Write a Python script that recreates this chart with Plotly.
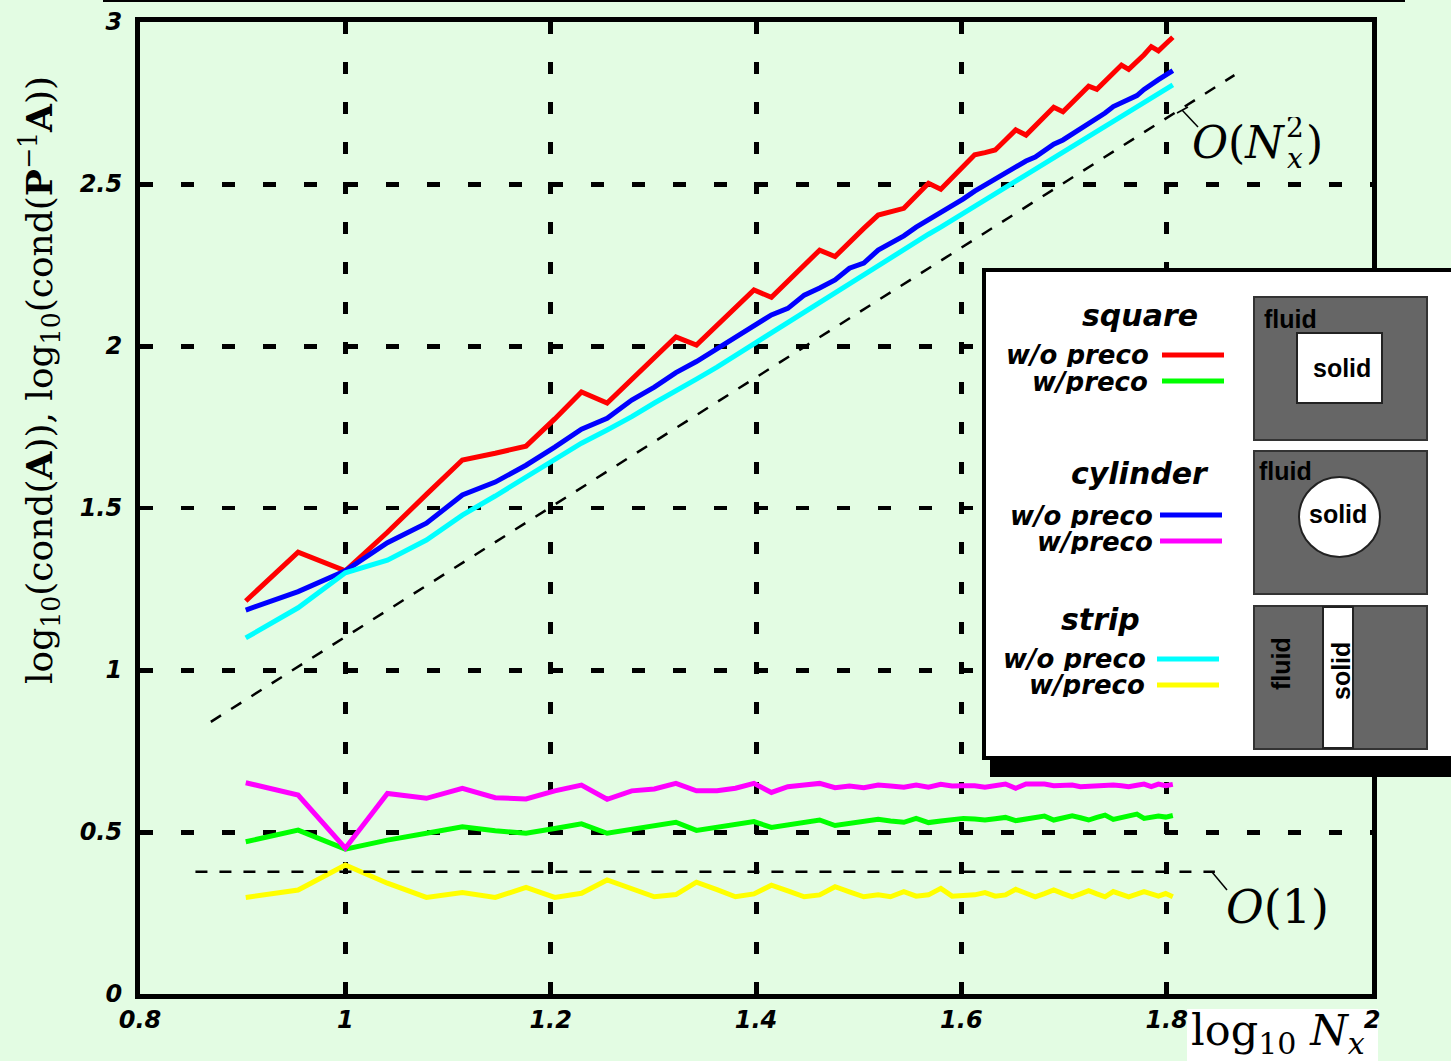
import plotly.graph_objects as go

# ---------------- data ----------------
# x = log10(Nx), Nx = 8 ... 64
log_nx = [0.903, 0.954, 1.000, 1.041, 1.079, 1.114, 1.146, 1.176, 1.204, 1.230,
          1.255, 1.279, 1.301, 1.322, 1.342, 1.362, 1.380, 1.398, 1.415, 1.431,
          1.447, 1.462, 1.477, 1.491, 1.505, 1.519, 1.531, 1.544, 1.556, 1.568,
          1.580, 1.591, 1.602, 1.613, 1.623, 1.633, 1.643, 1.653, 1.663, 1.672,
          1.681, 1.690, 1.699, 1.708, 1.716, 1.724, 1.732, 1.740, 1.748, 1.756,
          1.763, 1.771, 1.778, 1.785, 1.792, 1.799, 1.806]

square_wo = [1.213, 1.364, 1.306, 1.425, 1.542, 1.648, 1.669, 1.691, 1.775, 1.858,
             1.824, 1.896, 1.963, 2.028, 2.003, 2.063, 2.119, 2.173, 2.150, 2.201,
             2.250, 2.296, 2.276, 2.321, 2.363, 2.404, 2.415, 2.425, 2.464, 2.502,
             2.484, 2.518, 2.553, 2.590, 2.597, 2.605, 2.636, 2.667, 2.651, 2.680,
             2.710, 2.737, 2.723, 2.750, 2.776, 2.802, 2.792, 2.816, 2.842, 2.867,
             2.854, 2.876, 2.899, 2.924, 2.911, 2.932, 2.953]

square_w = [0.470, 0.506, 0.447, 0.475, 0.496, 0.516, 0.504, 0.496, 0.511, 0.525,
            0.496, 0.508, 0.519, 0.530, 0.505, 0.514, 0.523, 0.532, 0.514, 0.522,
            0.530, 0.537, 0.520, 0.526, 0.533, 0.539, 0.534, 0.530, 0.542, 0.529,
            0.534, 0.538, 0.542, 0.540, 0.537, 0.541, 0.545, 0.535, 0.540, 0.545,
            0.549, 0.537, 0.544, 0.550, 0.544, 0.537, 0.545, 0.552, 0.539, 0.545,
            0.550, 0.555, 0.542, 0.546, 0.549, 0.546, 0.551]

cylinder_wo = [1.185, 1.242, 1.306, 1.393, 1.453, 1.540, 1.580, 1.632, 1.688, 1.743,
               1.777, 1.833, 1.873, 1.918, 1.952, 1.991, 2.028, 2.065, 2.096, 2.116,
               2.157, 2.179, 2.204, 2.240, 2.256, 2.296, 2.318, 2.340, 2.367, 2.389,
               2.410, 2.432, 2.454, 2.478, 2.497, 2.517, 2.536, 2.554, 2.571, 2.583,
               2.605, 2.623, 2.636, 2.654, 2.673, 2.688, 2.703, 2.719, 2.739, 2.750,
               2.761, 2.773, 2.792, 2.809, 2.822, 2.836, 2.850]

cylinder_w = [0.652, 0.614, 0.450, 0.619, 0.604, 0.635, 0.606, 0.602, 0.627, 0.645,
              0.601, 0.627, 0.633, 0.650, 0.627, 0.627, 0.635, 0.650, 0.622, 0.640,
              0.645, 0.650, 0.637, 0.642, 0.637, 0.645, 0.642, 0.638, 0.645, 0.638,
              0.647, 0.642, 0.643, 0.643, 0.638, 0.643, 0.648, 0.635, 0.648, 0.648,
              0.648, 0.643, 0.644, 0.645, 0.640, 0.641, 0.643, 0.645, 0.645, 0.643,
              0.640, 0.644, 0.648, 0.640, 0.648, 0.643, 0.647]

strip_wo = [1.099, 1.192, 1.300, 1.339, 1.401, 1.478, 1.537, 1.595, 1.650, 1.700,
            1.741, 1.782, 1.824, 1.864, 1.898, 1.935, 1.971, 2.008, 2.040, 2.074,
            2.106, 2.136, 2.167, 2.194, 2.222, 2.248, 2.274, 2.298, 2.322, 2.345,
            2.367, 2.389, 2.410, 2.431, 2.451, 2.471, 2.490, 2.509, 2.528, 2.546,
            2.564, 2.581, 2.598, 2.615, 2.631, 2.647, 2.663, 2.678, 2.693, 2.708,
            2.723, 2.737, 2.751, 2.765, 2.779, 2.793, 2.806]

strip_w = [0.298, 0.321, 0.398, 0.342, 0.298, 0.313, 0.298, 0.329, 0.298, 0.311,
           0.352, 0.323, 0.300, 0.307, 0.345, 0.322, 0.300, 0.309, 0.336, 0.318,
           0.300, 0.306, 0.331, 0.315, 0.300, 0.306, 0.300, 0.316, 0.302, 0.306,
           0.326, 0.302, 0.304, 0.306, 0.313, 0.302, 0.306, 0.323, 0.311, 0.300,
           0.310, 0.321, 0.310, 0.300, 0.309, 0.319, 0.309, 0.300, 0.316, 0.308,
           0.300, 0.308, 0.316, 0.309, 0.302, 0.310, 0.300]

# reference slopes
quad_x = [0.869, 1.866]
quad_y = [0.840, 2.836]
const_x = [0.854, 1.847]
const_y = [0.377, 0.377]

x_ticks = [0.8, 1.0, 1.2, 1.4, 1.6, 1.8, 2.0]
x_tick_text = ["0.8", "1", "1.2", "1.4", "1.6", "1.8", "2"]
y_ticks = [0, 0.5, 1, 1.5, 2, 2.5, 3]
y_tick_text = ["0", "0.5", "1", "1.5", "2", "2.5", "3"]

# ---------------- layout geometry (pixels) ----------------
W, H = 1451, 1061
L, R, T, B = 140, 1372, 22, 994
BG = "#e3fce3"


def px(x):
    return (x - L) / (R - L)


def py(y):
    return (B - y) / (B - T)


fig = go.Figure()

series = [
    (square_wo, "#ff0000"),
    (square_w, "#00ff00"),
    (cylinder_wo, "#0000ff"),
    (cylinder_w, "#ff00ff"),
    (strip_wo, "#00ffff"),
    (strip_w, "#ffff00"),
]
for ys, col in series:
    fig.add_trace(go.Scatter(x=log_nx, y=ys, mode="lines",
                             line=dict(color=col, width=5),
                             showlegend=False, hoverinfo="skip"))

for xs, ys in [(quad_x, quad_y), (const_x, const_y)]:
    fig.add_trace(go.Scatter(x=xs, y=ys, mode="lines",
                             line=dict(color="black", width=2.5, dash="12px,12px"),
                             showlegend=False, hoverinfo="skip", cliponaxis=False))

tickfont = dict(family="DejaVu Sans", size=24, color="black", weight="bold", style="italic")

fig.update_xaxes(range=[0.8, 2.0], tickvals=x_ticks, ticktext=x_tick_text,
                 showline=True, mirror=True, linewidth=5, linecolor="black",
                 showgrid=True, gridcolor="black", gridwidth=5, griddash="12px,28px",
                 zeroline=False, ticks="", tickfont=tickfont, ticklabelstandoff=0)
fig.update_yaxes(range=[0, 3], tickvals=y_ticks, ticktext=y_tick_text,
                 showline=True, mirror=True, linewidth=5, linecolor="black",
                 showgrid=True, gridcolor="black", gridwidth=5, griddash="13px,28px",
                 zeroline=False, ticks="", tickfont=tickfont, ticklabelstandoff=8)

shapes = []
ann = []


def rect(x0, y0, x1, y1, fill, line="black", lw=0, layer="above"):
    shapes.append(dict(type="rect", xref="paper", yref="paper",
                       x0=px(x0), x1=px(x1), y0=py(y1), y1=py(y0),
                       fillcolor=fill, line=dict(color=line, width=lw), layer=layer))


def seg(x0, y0, x1, y1, color="black", lw=2, layer="above"):
    shapes.append(dict(type="line", xref="paper", yref="paper",
                       x0=px(x0), x1=px(x1), y0=py(y0), y1=py(y1),
                       line=dict(color=color, width=lw), layer=layer))


def text(x, y, s, size, family="DejaVu Sans", xanchor="center", yanchor="middle",
         angle=0, color="black", bg=None, height=None):
    d = dict(xref="paper", yref="paper", x=px(x), y=py(y), text=s, showarrow=False,
             font=dict(family=family, size=size, color=color),
             xanchor=xanchor, yanchor=yanchor, textangle=angle, borderpad=0)
    if bg:
        d["bgcolor"] = bg
    if height:
        d["height"] = height
    ann.append(d)


# thin line at the very top
seg(103, 1, 1405, 1, lw=2)

# white box behind the x-axis title (below tick labels)
rect(1187, 1009, 1378, 1061, "white", layer="below")

# legend box with shadow
rect(990, 276, 1470, 777, "black")
rect(984, 270, 1470, 758, "white", line="black", lw=4)

# legend entries
text(1140, 315, "<b><i>square</i></b>", 30)
text(1150, 355, "<b><i>w/o preco</i></b>", 26, xanchor="right", height=24)
text(1149, 382, "<b><i>w/preco</i></b>", 26, xanchor="right", height=24)
seg(1162, 355, 1224, 355, "#ff0000", 5)
seg(1162, 381, 1224, 381, "#00ff00", 5)

text(1140, 473, "<b><i>cylinder</i></b>", 30)
text(1154, 516, "<b><i>w/o preco</i></b>", 26, xanchor="right", height=24)
text(1154, 542, "<b><i>w/preco</i></b>", 26, xanchor="right", height=24)
seg(1160, 515, 1222, 515, "#0000ff", 5)
seg(1160, 541, 1222, 541, "#ff00ff", 5)

text(1100, 620, "<b><i>strip</i></b>", 30)
text(1147, 659, "<b><i>w/o preco</i></b>", 26, xanchor="right", height=24)
text(1146, 685, "<b><i>w/preco</i></b>", 26, xanchor="right", height=24)
seg(1157, 659, 1219, 659, "#00ffff", 5)
seg(1157, 685, 1219, 685, "#ffff00", 5)

# geometry sketches
GRAY = "#666666"
rect(1254, 297, 1427, 440, GRAY, line="#333333", lw=2)
rect(1297, 333, 1382, 403, "white", line="#222222", lw=2)
text(1263, 319, "<b>fluid</b>", 25, family="Liberation Sans", xanchor="left")
text(1342, 368, "<b>solid</b>", 25, family="Liberation Sans")

rect(1254, 451, 1427, 594, GRAY, line="#333333", lw=2)
shapes.append(dict(type="circle", xref="paper", yref="paper",
                   x0=px(1299), x1=px(1380), y0=py(557), y1=py(477),
                   fillcolor="white", line=dict(color="#222222", width=2), layer="above"))
text(1258, 471, "<b>fluid</b>", 25, family="Liberation Sans", xanchor="left")
text(1338, 514, "<b>solid</b>", 25, family="Liberation Sans")

rect(1254, 606, 1427, 749, GRAY, line="#333333", lw=2)
rect(1323, 607, 1353, 748, "white", line="#222222", lw=2)
text(1281, 664, "<b>fluid</b>", 25, family="Liberation Sans", angle=-90)
text(1341, 671, "<b>solid</b>", 25, family="Liberation Sans", angle=-90)

# slope annotations
seg(1182, 110, 1198, 127, lw=1.5)
seg(1177, 113, 1188, 107, lw=1.5)
text(1286, 142, "<i>O</i>(<i>N</i>", 44, family="DejaVu Serif", xanchor="right")
text(1295, 158, "<i>x</i>", 28, family="DejaVu Serif", height=20)
text(1295, 127, "2", 28, family="DejaVu Serif", height=20)
text(1305, 142, ")", 44, family="DejaVu Serif", xanchor="left")
seg(1212, 872, 1227, 890, lw=1.5)
text(1277, 907, "<i>O</i>(1)", 46, family="DejaVu Serif")

# axis titles
text(1278, 1033, "log<sub>10</sub> <i>N<sub>x</sub></i>", 43, family="DejaVu Serif")
text(40, 380, "log<sub>10</sub>(cond(<b>A</b>)), log<sub>10</sub>(cond(<b>P</b><sup>\u22121</sup><b>A</b>))",
     36, family="DejaVu Serif", angle=-90)

fig.update_layout(
    width=W, height=H,
    margin=dict(l=L, r=W - R, t=T, b=H - B, autoexpand=False),
    paper_bgcolor=BG, plot_bgcolor=BG,
    shapes=shapes, annotations=ann,
    showlegend=False,
)

fig.write_html("out.html", config={"displayModeBar": False},
               post_script="document.body.style.margin='0';document.body.style.overflow='hidden';")
